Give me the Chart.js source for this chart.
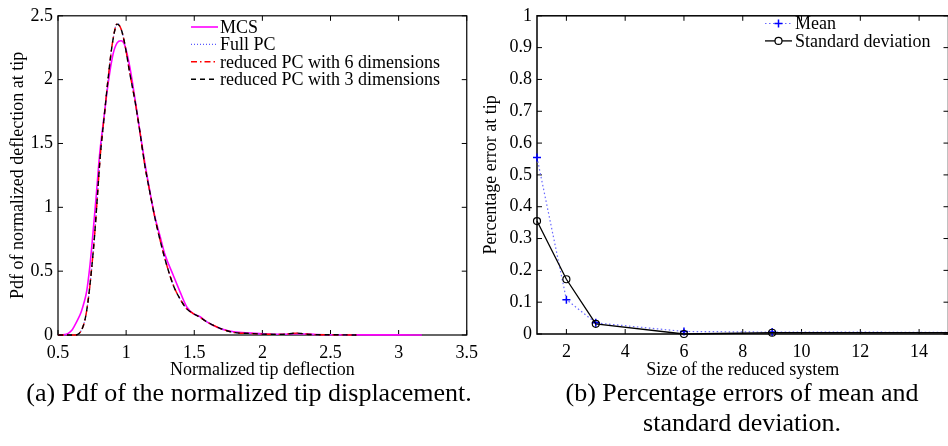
<!DOCTYPE html>
<html lang="en">
<head>
<meta charset="UTF-8">
<title>Tip deflection: pdf and reduced system errors</title>
<script src="https://cdn.jsdelivr.net/npm/chart.js@4.4.0/dist/chart.umd.min.js"></script>
<style>
    body {
        margin: 0;
        width: 948px;
        height: 446px;
        overflow: hidden;
        position: relative;
        background: #fff;
        font-family: 'Liberation Serif', 'Times New Roman', serif;
        color: #000;
    }
    canvas { position: absolute; top: 0; }
    #pdfChart { left: 0; }
    #errChart { left: 470px; }
    .caption {
        position: absolute;
        font-size: 26px;
        line-height: 30px;
        text-align: center;
        white-space: nowrap;
    }
</style>
</head>
<body>

<canvas id="pdfChart" width="485" height="382"></canvas>
<canvas id="errChart" width="484" height="382"></canvas>
<div class="caption" style="left:0; width:498px; top:378px">(a) Pdf of the normalized tip displacement.</div>
<div class="caption" style="left:522px; width:440px; top:378px">(b) Percentage errors of mean and<br>standard deviation.</div>

<script>
    // (a) pdf of the normalized tip deflection
    const mcsX = [0.5, 0.55, 0.575, 0.6, 0.62, 0.645, 0.67, 0.69, 0.71, 0.735, 0.757, 0.782, 0.807, 0.838, 0.868, 0.904, 0.935, 0.962, 0.99, 1.027, 1.065, 1.10, 1.14, 1.175, 1.21, 1.25, 1.285, 1.345, 1.395, 1.445, 1.49, 1.54, 1.59, 1.69, 1.79, 1.91, 2.03, 2.15, 2.25, 2.4, 2.6, 2.8, 3.0, 3.17];
    const mcsY = [0, 0.003, 0.013, 0.035, 0.07, 0.12, 0.18, 0.25, 0.34, 0.55, 0.80, 1.11, 1.43, 1.71, 1.97, 2.20, 2.29, 2.305, 2.27, 2.10, 1.85, 1.60, 1.33, 1.12, 0.93, 0.77, 0.63, 0.47, 0.34, 0.22, 0.17, 0.145, 0.105, 0.05, 0.025, 0.015, 0.008, 0.006, 0.01, 0.004, 0.002, 0.001, 0.001, 0];

    const pcX = [0.5, 0.62, 0.645, 0.665, 0.685, 0.70, 0.72, 0.745, 0.77, 0.79, 0.81, 0.84, 0.87, 0.90, 0.935, 0.965, 0.99, 1.027, 1.064, 1.10, 1.137, 1.174, 1.205, 1.25, 1.30, 1.35, 1.40, 1.445, 1.49, 1.54, 1.59, 1.69, 1.79, 1.91, 2.03, 2.15, 2.25, 2.35, 2.5, 2.69];
    const pcFullY = [0, 0, 0.005, 0.025, 0.07, 0.13, 0.26, 0.50, 0.80, 1.10, 1.40, 1.72, 2.03, 2.29, 2.44, 2.39, 2.28, 2.05, 1.84, 1.60, 1.33, 1.12, 0.95, 0.74, 0.54, 0.38, 0.275, 0.205, 0.17, 0.14, 0.104, 0.052, 0.02, 0.012, 0.006, 0.005, 0.015, 0.004, 0.002, 0];
    const pc6Y = [0, 0, 0.005, 0.025, 0.07, 0.13, 0.26, 0.50, 0.80, 1.10, 1.40, 1.72, 2.03, 2.29, 2.44, 2.39, 2.28, 2.05, 1.84, 1.60, 1.33, 1.12, 0.95, 0.74, 0.54, 0.38, 0.275, 0.205, 0.17, 0.14, 0.104, 0.052, 0.02, 0.012, 0.006, 0.005, 0.015, 0.004, 0.002, 0];
    const pc3Y = [0, 0, 0.005, 0.025, 0.07, 0.13, 0.26, 0.50, 0.80, 1.10, 1.40, 1.72, 2.03, 2.29, 2.435, 2.39, 2.28, 2.05, 1.84, 1.60, 1.33, 1.12, 0.95, 0.74, 0.54, 0.38, 0.275, 0.205, 0.17, 0.14, 0.104, 0.052, 0.02, 0.012, 0.006, 0.005, 0.015, 0.004, 0.002, 0];

    const pdfTicksX = [0.5, 1, 1.5, 2, 2.5, 3, 3.5];
    const pdfTicksY = [0, 0.5, 1, 1.5, 2, 2.5];

    // (b) errors against size of the reduced system
    const systemSize = [1, 2, 3, 6, 9, 18];
    const meanErr = [0.555, 0.108, 0.035, 0.008, 0.006, 0.005];
    const stdErr = [0.355, 0.172, 0.032, 0.0, 0.004, 0.004];

    const errTicksX = [2, 4, 6, 8, 10, 12, 14];
    const errTicksY = [0, 0.1, 0.2, 0.3, 0.4, 0.5, 0.6, 0.7, 0.8, 0.9, 1];

    const serif = "'Liberation Serif', 'Times New Roman', serif";
    const axisFont = { family: serif, size: 18 };

    const points = (xs, ys) => xs.map((x, i) => ({ x: x, y: ys[i] }));

    // box round the plot with small inward ticks on all four sides
    const frame = {
        id: 'frame',
        beforeDatasetsDraw(chart, args, opts) {
            const { ctx, chartArea: a, scales: { x, y } } = chart;
            const len = opts.tickLength;
            ctx.save();
            ctx.strokeStyle = '#000';
            ctx.lineWidth = 1;
            ctx.beginPath();
            x.ticks.forEach(t => {
                const px = x.getPixelForValue(t.value);
                ctx.moveTo(px, a.bottom); ctx.lineTo(px, a.bottom - len);
                ctx.moveTo(px, a.top); ctx.lineTo(px, a.top + len);
            });
            y.ticks.forEach(t => {
                const py = y.getPixelForValue(t.value);
                ctx.moveTo(a.left, py); ctx.lineTo(a.left + len, py);
                ctx.moveTo(a.right, py); ctx.lineTo(a.right - len, py);
            });
            ctx.stroke();
            ctx.lineWidth = opts.boxWidth;
            ctx.strokeRect(a.left, a.top, a.width, a.height);
            ctx.restore();
        }
    };

    // matlab-style key: line sample with marker, then the label
    const lineKey = {
        id: 'lineKey',
        afterDraw(chart, args, opts) {
            const ctx = chart.ctx;
            ctx.save();
            ctx.font = opts.size + 'px ' + serif;
            ctx.textBaseline = 'middle';
            chart.data.datasets.forEach((ds, i) => {
                const y = opts.top + i * opts.rowHeight;
                ctx.strokeStyle = ds.borderColor;
                ctx.lineWidth = ds.borderWidth;
                ctx.setLineDash(ds.borderDash || []);
                ctx.beginPath();
                ctx.moveTo(opts.x0, y);
                ctx.lineTo(opts.x1, y);
                ctx.stroke();
                ctx.setLineDash([]);
                const cx = (opts.x0 + opts.x1) / 2;
                const r = ds.pointRadius;
                if (r && ds.pointStyle === 'cross') {
                    ctx.strokeStyle = ds.pointBorderColor;
                    ctx.lineWidth = ds.pointBorderWidth;
                    ctx.beginPath();
                    ctx.moveTo(cx - r, y); ctx.lineTo(cx + r, y);
                    ctx.moveTo(cx, y - r); ctx.lineTo(cx, y + r);
                    ctx.stroke();
                } else if (r && ds.pointStyle === 'circle') {
                    ctx.strokeStyle = ds.pointBorderColor;
                    ctx.lineWidth = ds.pointBorderWidth;
                    ctx.fillStyle = '#fff';
                    ctx.beginPath();
                    ctx.arc(cx, y, r, 0, Math.PI * 2);
                    ctx.fill();
                    ctx.stroke();
                }
                ctx.fillStyle = '#000';
                ctx.fillText(ds.label, opts.x1 + opts.gap, y + 1);
            });
            ctx.restore();
        }
    };

    function axis(min, max, tickValues, title, size, isX, titlePad) {
        return {
            type: 'linear',
            min: min,
            max: max,
            afterBuildTicks: s => { s.ticks = tickValues.map(v => ({ value: v })); },
            afterFit: s => { if (isX) s.height = size; else s.width = size; },
            ticks: {
                callback: v => String(v),
                font: axisFont,
                color: '#000',
                padding: isX ? 7 : 5,
                maxRotation: 0,
                autoSkip: false
            },
            grid: { display: false, drawTicks: false },
            border: { display: false },
            title: {
                display: true,
                text: title,
                font: axisFont,
                color: '#000',
                padding: isX ? { top: 0, bottom: 1 } : { top: titlePad, bottom: 0 }
            }
        };
    }

    const baseOptions = {
        responsive: false,
        animation: false,
        events: [],
        plugins: { legend: { display: false }, tooltip: { enabled: false } }
    };

    new Chart(document.getElementById('pdfChart'), {
        type: 'line',
        data: {
            datasets: [
                { label: 'MCS', data: points(mcsX, mcsY), borderColor: '#ff00ff', borderWidth: 1.6, order: 4 },
                { label: 'Full PC', data: points(pcX, pcFullY), borderColor: '#5a5aff', borderWidth: 1.2, borderDash: [1, 2], order: 3 },
                { label: 'reduced PC with 6 dimensions', data: points(pcX, pc6Y), borderColor: '#ff0000', borderWidth: 1.4, borderDash: [6, 3, 1.5, 3], order: 2 },
                { label: 'reduced PC with 3 dimensions', data: points(pcX, pc3Y), borderColor: '#000000', borderWidth: 1.4, borderDash: [5, 4], order: 1 }
            ].map(ds => Object.assign({ pointRadius: 0, cubicInterpolationMode: 'monotone', clip: false }, ds))
        },
        options: {
            ...baseOptions,
            layout: { padding: { left: 0, top: 14, right: 10, bottom: 0 } },
            scales: {
                x: axis(0.5, 3.5, pdfTicksX, 'Normalized tip deflection', 47, true, 0),
                y: axis(0, 2.5, pdfTicksY, 'Pdf of normalized deflection at tip', 58, false, 7)
            },
            plugins: {
                ...baseOptions.plugins,
                frame: { tickLength: 5, boxWidth: 1.2 },
                lineKey: { x0: 191, x1: 218, gap: 2, top: 27, rowHeight: 17.4, size: 18 }
            }
        },
        plugins: [frame, lineKey]
    });

    new Chart(document.getElementById('errChart'), {
        type: 'line',
        data: {
            datasets: [
                {
                    label: 'Mean', data: points(systemSize, meanErr),
                    borderColor: '#6a6aff', borderWidth: 1.2, borderDash: [1.5, 2.5],
                    pointStyle: 'cross', pointRadius: 4, pointBorderColor: '#0000ff', pointBorderWidth: 1.5,
                    order: 2
                },
                {
                    label: 'Standard deviation', data: points(systemSize, stdErr),
                    borderColor: '#000000', borderWidth: 1.3,
                    pointStyle: 'circle', pointRadius: 3.5, pointBorderColor: '#000000',
                    pointBackgroundColor: 'rgba(0,0,0,0)', pointBorderWidth: 1.2, order: 1
                }
            ].map(ds => Object.assign({ clip: false, tension: 0 }, ds))
        },
        options: {
            ...baseOptions,
            layout: { padding: { left: 0, top: 9, right: 1, bottom: 0 } },
            scales: {
                x: axis(1, 15, errTicksX, 'Size of the reduced system', 48, true, 0),
                y: axis(0, 1, errTicksY, 'Percentage error at tip', 67, false, 10)
            },
            plugins: {
                ...baseOptions.plugins,
                frame: { tickLength: 5, boxWidth: 1.5 },
                lineKey: { x0: 295, x1: 322, gap: 3, top: 23.5, rowHeight: 17.4, size: 18 }
            }
        },
        plugins: [frame, lineKey]
    });
</script>

</body>
</html>
